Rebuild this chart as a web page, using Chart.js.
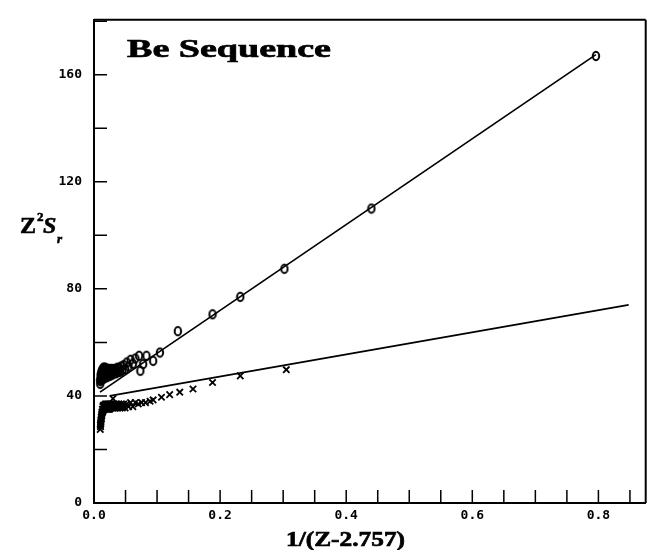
<!DOCTYPE html>
<html><head><meta charset="utf-8">
<style>html,body{margin:0;padding:0;background:#fff;}#wrap{width:652px;height:550px;}</style>
<script src="https://cdn.jsdelivr.net/npm/chart.js@4/dist/chart.umd.min.js"></script>
</head><body><div id="wrap"><canvas id="c" width="652" height="550"></canvas></div>
<script>
// ---- data ----
const xTickLabels = ['0.0','0.2','0.4','0.6','0.8'];
const yTickLabels = ['0','40','80','120','160'];
const titleText = 'Be Sequence';
const xTitleText = '1/(Z-2.757)';

// open circles (upper series)
const circX = [0.796,0.44,0.302,0.232,0.188,0.133,0.1045,0.0938,0.0832,0.078,0.0735,0.0715,
 0.0656,0.0616,0.0580,0.0548,0.0520,0.0494,0.0471,0.0450,0.0430,0.0412,0.0396,0.0381,0.0367,0.0354,0.0342,0.0331,0.0320,0.0310,0.0301,0.0292,0.0284,0.0276,0.0269,0.0261,0.0255,0.0248,0.0242,0.0237,0.0231,0.0226,0.0221,0.0216,0.0212,0.0203,0.0195,0.0188,0.0181,0.0175,0.0169,0.0163,0.0158,0.0153,0.0149,0.0144,0.0140,0.0137,0.0133,0.0129,0.0126,0.0123,0.0120,0.0117,0.0115,0.0112,0.0110,0.0107,0.0105,0.0103,0.0101,0.0099];
const circY = [167,110,87.5,77,70.5,64.2,56.2,53.1,55,51.9,49.4,55,
 54,52,53.5,51,52.5,50,51.5,49.5,51,49,50.5,49,50.5,48.5,50,48.5,50,48.5,50,48,50,48,50,48,50,47.5,50,47.5,50,47.5,50,47.5,50,47,50,47,50.5,47,50.5,47,50.5,46.5,50.5,46.5,50,46.5,49.5,46.5,49.5,46.5,49,46.5,48.5,46.5,48,46,47.5,45.5,46,44.5];

// crosses (lower series)
const crossX = [0.305,0.232,0.188,0.157,0.136,0.120,0.107,0.0938,0.0889,0.0817,0.0755,0.0702,
 0.0656,0.0616,0.0580,0.0548,0.0520,0.0494,0.0471,0.0450,0.0430,0.0412,0.0396,0.0381,0.0367,0.0354,0.0342,0.0331,0.0320,0.0310,0.0301,0.0292,0.0284,0.0276,0.0269,0.0261,0.0255,0.0248,0.0242,0.0237,0.0231,0.0226,0.0221,0.0216,0.0212,0.0203,0.0195,0.0188,0.0181,0.0175,0.0169,0.0163,0.0158,0.0153,0.0149,0.0144,0.0140,0.0137,0.0133,0.0129,0.0126,0.0123,0.0120,0.0117,0.0115,0.0112,0.0110,0.0107,0.0105,0.0103,0.0101,0.0099];
const crossY = [49.8,47.5,45,42.6,41.4,40.5,39.5,38.5,38,37.5,37.5,37,
 37.5,36,37.5,36,37,35.5,37,35.5,37,35.5,37,35.5,37,35.5,37,35.5,37,35.5,39,35.5,37,35.5,37,35.5,37,35,37,35,37,35,37,35,37,35,37,35,37,35,36.5,35,36.5,35,36.5,34.5,36,34,35,33.5,34,32.5,33,31.5,32,30.5,31,29.5,30,28.5,29,27.5];

// fitted lines
const fitUpperX = [0.0095, 0.796];
const fitUpperY = [41.4, 167.5];
const fitLowerX = [0.025, 0.848];
const fitLowerY = [40, 74];

// ---- build ----
const pts = (xs, ys) => xs.map((x, i) => ({x, y: ys[i]}));

function makeO() {
  const c = document.createElement('canvas');
  c.width = 10; c.height = 12;
  const g = c.getContext('2d');
  g.strokeStyle = '#000'; g.lineWidth = 2;
  g.beginPath(); g.ellipse(5, 6, 3.2, 4.2, 0, 0, Math.PI * 2); g.stroke();
  return c;
}

const tickFont = {family: 'DejaVu Sans Mono', weight: 'bold', size: 13};

function drawFit(ctx, text, font, x, baseline, width) {
  ctx.save();
  ctx.font = font; ctx.fillStyle = '#000'; ctx.strokeStyle = '#000'; ctx.lineWidth = 0.7;
  ctx.textAlign = 'left'; ctx.textBaseline = 'alphabetic';
  const w = ctx.measureText(text).width;
  ctx.translate(x, baseline);
  ctx.scale(width / w, 1);
  ctx.fillText(text, 0, 0);
  ctx.strokeText(text, 0, 0);
  ctx.restore();
}

function drawBold(ctx, text, font, x, baseline) {
  ctx.font = font;
  ctx.fillText(text, x, baseline);
  ctx.strokeText(text, x, baseline);
}

const framePlugin = {
  id: 'frame',
  afterDraw(chart) {
    const {ctx, chartArea: a, scales: {x, y}} = chart;
    ctx.save();
    ctx.strokeStyle = '#000';
    ctx.lineWidth = 2;
    ctx.beginPath();
    ctx.moveTo(a.left, a.top); ctx.lineTo(a.right, a.top);
    ctx.moveTo(a.right, a.top); ctx.lineTo(a.right, a.bottom);
    ctx.stroke();
    ctx.lineWidth = 1.5;
    ctx.beginPath();
    x.ticks.forEach(t => {
      const px = x.getPixelForValue(t.value);
      if (px <= a.left + 1) return;
      ctx.moveTo(px, a.bottom); ctx.lineTo(px, a.bottom - 13);
    });
    y.ticks.forEach(t => {
      const py = y.getPixelForValue(t.value);
      if (py >= a.bottom - 1 || py <= a.top + 1) return;
      ctx.moveTo(a.left, py); ctx.lineTo(a.left + 13, py);
    });
    ctx.stroke();
    ctx.restore();

    // titles
    drawFit(ctx, titleText, 'bold 26px "Liberation Serif"', 127, 57, 204);
    drawFit(ctx, xTitleText, 'bold 22px "Liberation Serif"', 286, 546, 119);
    // y title: Z^2 S_r
    ctx.save();
    ctx.fillStyle = '#000'; ctx.strokeStyle = '#000'; ctx.lineWidth = 0.6;
    ctx.textBaseline = 'alphabetic'; ctx.textAlign = 'left';
    drawBold(ctx, 'Z', 'bold 24px "Liberation Serif"', 20, 233);
    drawBold(ctx, '2', 'bold 13px "Liberation Serif"', 37, 221);
    drawBold(ctx, 'S', 'italic bold 24px "Liberation Serif"', 43, 233);
    drawBold(ctx, 'r', 'italic bold 13px "Liberation Serif"', 57, 243);
    ctx.restore();
  }
};

new Chart(document.getElementById('c'), {
  type: 'scatter',
  data: {
    datasets: [
      {data: pts(circX, circY), pointStyle: makeO(), pointRadius: 4, borderColor: '#000', backgroundColor: 'rgba(0,0,0,0)', showLine: false},
      {data: pts(crossX, crossY), pointStyle: 'crossRot', pointRadius: 4.5, pointBorderWidth: 1.8, borderColor: '#000', backgroundColor: '#000', showLine: false},
      {data: pts(fitUpperX, fitUpperY), showLine: true, pointRadius: 0, borderColor: '#000', borderWidth: 1.7, fill: false},
      {data: pts(fitLowerX, fitLowerY), showLine: true, pointRadius: 0, borderColor: '#000', borderWidth: 1.7, fill: false}
    ]
  },
  options: {
    responsive: false, animation: false, devicePixelRatio: 1,
    layout: {padding: {left: 0, right: 3, top: 16, bottom: 0}},
    plugins: {legend: {display: false}, tooltip: {enabled: false}, title: {display: false}},
    scales: {
      x: {
        type: 'linear', position: 'bottom', min: 0, max: 0.875,
        grid: {display: false, drawTicks: false},
        border: {display: true, color: '#000', width: 2},
        ticks: {
          stepSize: 0.05, includeBounds: false, autoSkip: false, maxRotation: 0, padding: 5,
          color: '#000', font: tickFont,
          callback: v => {
            const k = v / 0.2;
            return Math.abs(k - Math.round(k)) < 1e-6 ? (xTickLabels[Math.round(k)] ?? '') : '';
          }
        },
        afterFit: s => { s.height = 47; }
      },
      y: {
        type: 'linear', min: 0, max: 180.5,
        grid: {display: false, drawTicks: false},
        border: {display: true, color: '#000', width: 2},
        ticks: {
          stepSize: 20, includeBounds: false, autoSkip: false, padding: 12,
          color: '#000', font: tickFont,
          callback: v => {
            const k = v / 40;
            return Math.abs(k - Math.round(k)) < 1e-6 ? (yTickLabels[Math.round(k)] ?? '') : '';
          }
        },
        afterFit: s => { s.width = 94; }
      }
    }
  },
  plugins: [framePlugin]
});
</script>
</body></html>
